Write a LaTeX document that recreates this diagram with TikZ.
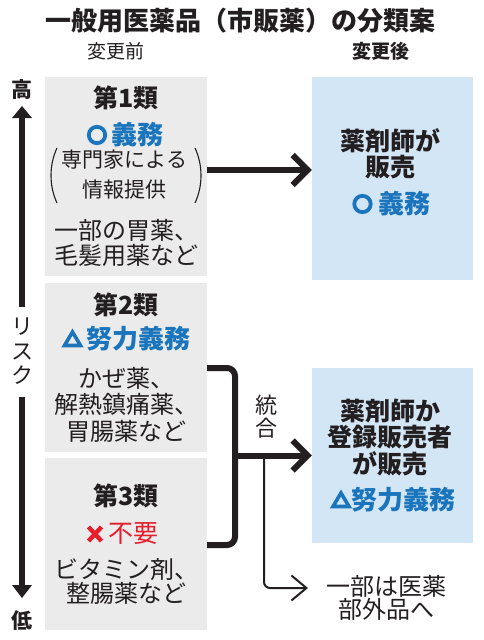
\documentclass[tikz,border=0pt]{standalone}
\usepackage{fontspec}
\setmainfont{Noto Sans CJK JP}
\usetikzlibrary{arrows.meta}
\definecolor{boxgray}{HTML}{EBEBEB}
\definecolor{boxblue}{HTML}{D3E6F6}
\definecolor{accblue}{HTML}{1B75BC}
\definecolor{accred}{HTML}{E41E2B}
\definecolor{ink}{HTML}{231F20}
\begin{document}
\begin{tikzpicture}[x=1pt,y=-1pt,
  graybox/.style={fill=boxgray, draw=none, inner sep=0pt},
  bluebox/.style={fill=boxblue, draw=none, inner sep=0pt},
  txt/.style={inner sep=0pt, text=ink, align=center},
  bigtxt/.style={txt, font=\fontsize{24}{25}\selectfont},
  boldtxt/.style={txt, font=\fontsize{25}{26.5}\selectfont\bfseries},
  bluetxt/.style={txt, text=accblue, font=\fontsize{26}{26}\selectfont\bfseries},
  redtxt/.style={txt, text=accred, font=\fontsize{25}{26}\selectfont},
  bigarrow/.style={draw=ink, line width=6pt, -{Straight Barb[sharp,length=15pt,width=30pt]}},
  bracketline/.style={draw=ink, line width=6pt, rounded corners=8pt},
  thinarrow/.style={draw=ink, line width=2pt, rounded corners=6pt, -{Straight Barb[sharp,length=15pt,width=25pt]}},
  parenline/.style={draw=ink, line width=1.1pt}
]
\useasboundingbox (0,0) rectangle (483,640);
\fill[white] (0,0) rectangle (483,640);

% title and headers
\node[txt, font=\fontsize{26}{30}\selectfont\bfseries] (title) at (240.5,21) {一般用医薬品（市販薬）の分類案};
\node[txt, font=\fontsize{19}{20}\selectfont] (before) at (115.5,51) {変更前};
\node[txt, font=\fontsize{19}{20}\selectfont\bfseries] (after) at (381,51) {変更後};

% boxes
\node[graybox, minimum width=162pt, minimum height=199pt] (g1) at (126,176.5) {};
\node[graybox, minimum width=162pt, minimum height=169pt] (g2) at (126,367.5) {};
\node[graybox, minimum width=162pt, minimum height=172pt] (g3) at (126,544) {};
\node[bluebox, minimum width=161pt, minimum height=203pt] (r1) at (392.5,178.5) {};
\node[bluebox, minimum width=161pt, minimum height=175pt] (r2) at (392.5,455.5) {};

% box 1
\node[boldtxt] (c1) at (126,98) {第1類};
\draw[accblue, line width=3.8pt] (97,135) circle (8.2pt);
\node[bluetxt] (c1a) at (137.5,135) {義務};
\node[txt, font=\fontsize{21}{30}\selectfont] (c1b) at (124.5,175) {専門家による\\情報提供};
\draw[parenline] (57,148) .. controls (49,165) and (49,186) .. (57,203);
\draw[parenline] (195,148) .. controls (203,165) and (203,186) .. (195,203);
\node[bigtxt] (c1c) at (126,242.5) {一部の胃薬、\\毛髪用薬など};

% box 2
\node[boldtxt] (c2) at (126,305) {第2類};
\draw[accblue, line width=3.6pt, line join=miter] (64.5,345.5) -- (80.5,345.5) -- (72.5,332) -- cycle;
\node[bluetxt] (c2a) at (138.5,339) {努力義務};
\node[bigtxt, font=\fontsize{24}{26.5}\selectfont] (c2b) at (126,404.5) {かぜ薬、\\解熱鎮痛薬、\\胃腸薬など};

% box 3
\node[boldtxt] (c3) at (126,496) {第3類};
\draw[accred, line width=4.4pt] (88.5,527) -- (101.5,541) (101.5,527) -- (88.5,541);
\node[redtxt] (c3a) at (133,534) {不要};
\node[bigtxt, font=\fontsize{24}{23.5}\selectfont] (c3b) at (126,581.5) {ビタミン剤、\\整腸薬など};

% right box 1
\node[boldtxt] (d1) at (390,154) {薬剤師が\\販売};
\draw[accblue, line width=3.8pt] (362.5,204) circle (8.2pt);
\node[bluetxt] (d1a) at (404,204) {義務};

% right box 2
\node[boldtxt] (d2) at (390,437.5) {薬剤師か\\登録販売者\\が販売};
\draw[accblue, line width=3.6pt, line join=miter] (333,506.5) -- (349,506.5) -- (341,493) -- cycle;
\node[bluetxt] (d2a) at (403,500) {努力義務};

% risk axis
\node[txt, font=\fontsize{21}{22}\selectfont\bfseries] (hi) at (22,90) {高};
\node[txt, font=\fontsize{21}{22}\selectfont\bfseries] (lo) at (22,621) {低};
\node[txt, font=\fontsize{22}{24.5}\selectfont] (risk) at (23,351.5) {リ\\ス\\ク};
\coordinate (hiTip) at (22,106);
\coordinate (loTip) at (22,598);
\coordinate (upEnd) at (22,307);
\coordinate (downEnd) at (22,397);
\fill[ink] ([xshift=-3.2pt]upEnd) rectangle ([xshift=3.2pt,yshift=-11pt]hiTip);
\fill[ink] (hiTip) -- ++(10,12) -- ++(-20,0) -- cycle;
\fill[ink] ([xshift=-3.2pt]downEnd) rectangle ([xshift=3.2pt,yshift=12pt]loTip);
\fill[ink] (loTip) -- ++(10,-13) -- ++(-20,0) -- cycle;

% connectors
\draw[bigarrow] (g1.east |- 0,170) -- (r1.west |- 0,170);
\coordinate (join) at (235,455.5);
\draw[bracketline] (g2.east |- 0,368) -| (join) |- (g3.east |- 0,545);
\draw[bigarrow] (join) -- (r2.west);
\node[txt, font=\fontsize{22}{23}\selectfont] (merge) at (266,417) {統\\合};
\node[txt, font=\fontsize{24}{22}\selectfont] (ext) at (386,598) {一部は医薬\\部外品へ};
\coordinate (br) at (264,455.5);
\coordinate (extTip) at (308,588);
\draw[thinarrow] (br) |- (extTip);
\end{tikzpicture}
\end{document}
